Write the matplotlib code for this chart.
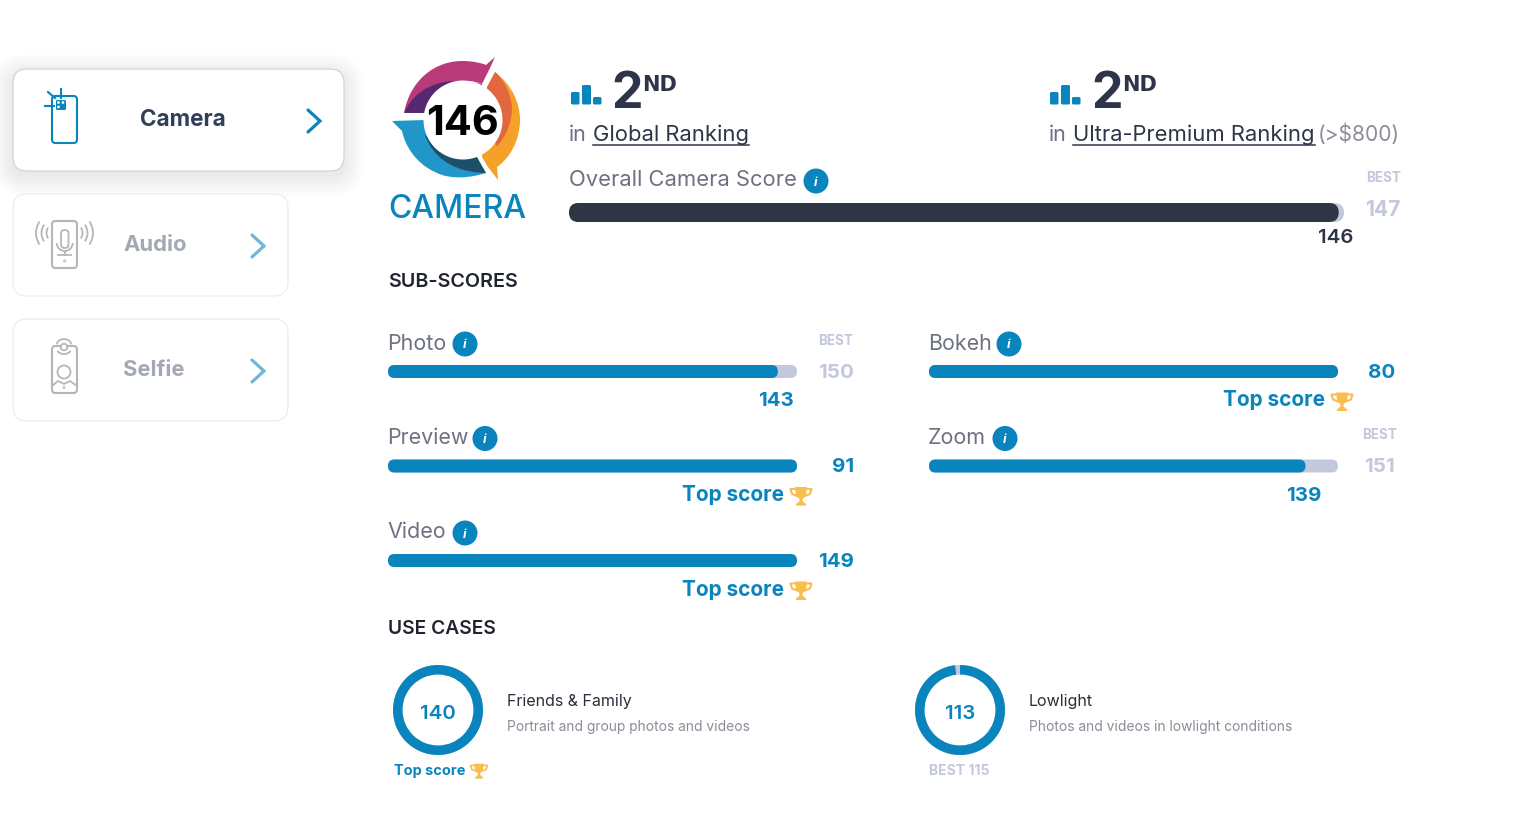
import numpy as np
import matplotlib
matplotlib.use("Agg")
import matplotlib.pyplot as plt
from matplotlib.patches import Circle, FancyBboxPatch, PathPatch, Wedge, Arc, Polygon
from matplotlib.path import Path

plt.rcParams["font.family"] = ["Inter", "DejaVu Sans"]

menu_labels = ["Camera", "Audio", "Selfie"]

overall_label = "Overall Camera Score"
overall_score = 146
overall_best = 147

rank_value = ["2", "2"]
rank_suffix = ["ND", "ND"]
rank_names = ["Global Ranking", "Ultra-Premium Ranking"]

sub_names = ["Photo", "Preview", "Video", "Bokeh", "Zoom"]
sub_scores = [143, 91, 149, 80, 139]
sub_best = [150, 91, 149, 80, 151]

case_names = ["Friends & Family", "Lowlight"]
case_desc = ["Portrait and group photos and videos", "Photos and videos in lowlight conditions"]
case_scores = [140, 113]
case_best = [140, 115]

BLUE = "#0a84bd"
DARK = "#2f3548"
GREY = "#6d7182"
PALE = "#c4c8dc"
GOLD = "#f9bd4d"
ICON = "#b4b6ba"

fig = plt.figure(figsize=(15.4, 8.18), dpi=100)
ax = fig.add_axes([0, 0, 1, 1])
ax.set_xlim(0, 1540)
ax.set_ylim(818, 0)
ax.axis("off")


def txt(x, y, s, px, color=DARK, weight="normal", ha="left", **kw):
    return ax.text(x, y, s, fontsize=px * 0.72, color=color, fontweight=weight,
                   ha=ha, va="baseline", zorder=6, **kw)


def pill(x, y, w, h, color, z=3):
    ax.add_patch(FancyBboxPatch((x, y), w, h, boxstyle=f"round,pad=0,rounding_size={h / 2}",
                                fc=color, ec="none", zorder=z))


def card(x, y, w, h, edge, shadow=False):
    if shadow:
        for grow in range(20, 0, -2):
            ax.add_patch(FancyBboxPatch((x - grow, y - grow + 5), w + 2 * grow, h + 2 * grow,
                                        boxstyle=f"round,pad=0,rounding_size={14 + grow}",
                                        fc="#60646e", ec="none", alpha=0.006, zorder=1))
    ax.add_patch(FancyBboxPatch((x, y), w, h, boxstyle="round,pad=0,rounding_size=14",
                                fc="white", ec=edge, lw=0.7, zorder=2))


def chevron(x, yc, color):
    ax.plot([x, x + 12, x], [yc - 11, yc, yc + 11], color=color, lw=2.3,
            solid_capstyle="round", solid_joinstyle="miter", zorder=5)


def badge(x, y):
    ax.add_patch(Circle((x, y), 12.5, fc=BLUE, ec="none", zorder=5))
    txt(x, y + 4.5, "i", 13, "white", "bold", "center", style="italic")


def trophy(x, y, k=1.0):
    # cup, handles and foot around centre x, y
    cup = [(-6, -9), (6, -9), (5, -1), (1.5, 3), (1.5, 5), (5, 8), (5, 9.5),
           (-5, 9.5), (-5, 8), (-1.5, 5), (-1.5, 3), (-5, -1)]
    ax.add_patch(Polygon([(x + k * a, y + k * b) for a, b in cup], fc=GOLD, ec="none", zorder=5))
    for side in (-1, 1):
        ax.plot([x + side * k * 6, x + side * k * 10.5, x + side * k * 9, x + side * k * 4],
                [y - k * 7, y - k * 7, y - k * 2, y], color=GOLD, lw=1.5 * k, zorder=5)


def shape(segments, color, z=3):
    # segments: start point, then 1 point = line, 3 points = cubic bezier
    verts, codes = [segments[0]], [Path.MOVETO]
    for seg in segments[1:]:
        if len(seg) == 1:
            verts += seg
            codes += [Path.LINETO]
        else:
            verts += seg
            codes += [Path.CURVE4] * 3
    verts.append(segments[0])
    codes.append(Path.CLOSEPOLY)
    ax.add_patch(PathPatch(Path(verts, codes), fc=color, ec="none", zorder=z))


def rank_icon(x):
    for dx, w, top in [(0, 8.5, 92), (11, 9, 85), (22, 8.5, 97)]:
        ax.add_patch(FancyBboxPatch((x + dx, top), w, 104.5 - top, boxstyle="round,pad=0,rounding_size=1.5",
                                    fc=BLUE, ec="none", zorder=4))


def phone(y0, color):
    ax.add_patch(FancyBboxPatch((52, y0), 25, 47, boxstyle="round,pad=0,rounding_size=3.5",
                                fc="none", ec=color, lw=1.5, zorder=4))


# side menu
card(13, 69, 331, 102, "#c9cbd1", shadow=True)
card(13, 194, 275, 102, "#e7e8eb")
card(13, 319, 275, 102, "#e7e8eb")
txt(140, 126, menu_labels[0], 22.5, "#2f4058", "bold")
txt(123, 251, menu_labels[1], 22, "#a3a9b3", "bold")
txt(123, 376, menu_labels[2], 22, "#a3a9b3", "bold")
chevron(308, 121, BLUE)
chevron(252, 246, "#72b5da")
chevron(252, 371, "#72b5da")

# camera icon
phone(96, BLUE)
ax.add_patch(FancyBboxPatch((56, 100), 10, 10, boxstyle="round,pad=0,rounding_size=1.5", fc=BLUE, ec="none", zorder=5))
for cx, cy in [(58.5, 102.5), (63, 102.5), (58.5, 107)]:
    ax.add_patch(Circle((cx, cy), 1.4, fc="white", ec="none", zorder=6))
ax.plot([60.5, 60.5], [89, 98], color=BLUE, lw=1.5, zorder=5)
ax.plot([45, 54], [105.7, 105.7], color=BLUE, lw=1.5, zorder=5)
ax.plot([48, 55], [92, 98], color=BLUE, lw=1.5, zorder=5)

# audio icon
phone(221, ICON)
ax.add_patch(FancyBboxPatch((61, 230), 7.5, 18, boxstyle="round,pad=0,rounding_size=3.7", fc="none", ec=ICON, lw=1.3, zorder=4))
ax.add_patch(Arc((64.7, 243), 16, 16, theta1=0, theta2=180, color=ICON, lw=1.3, zorder=4))
ax.plot([64.7, 64.7], [251, 255], color=ICON, lw=1.3, zorder=4)
ax.plot([58, 71], [255, 255], color=ICON, lw=1.3, zorder=4)
ax.add_patch(Circle((64.7, 261), 1, fc="none", ec=ICON, lw=0.7, zorder=4))
for r in [9.5, 14.5, 20]:
    ax.add_patch(Arc((56, 233), 2 * r, 2 * r, theta1=145, theta2=215, color=ICON, lw=1.3, zorder=4))
    ax.add_patch(Arc((73, 233), 2 * r, 2 * r, theta1=-35, theta2=35, color=ICON, lw=1.3, zorder=4))

# selfie icon
phone(346, ICON)
ax.add_patch(Circle((64, 347), 3.3, fc="white", ec=ICON, lw=1.3, zorder=5))
ax.add_patch(Arc((64, 347), 16, 16, theta1=200, theta2=340, color=ICON, lw=1.3, zorder=5))
ax.add_patch(Arc((64, 347), 16, 14, theta1=30, theta2=150, color=ICON, lw=1.3, zorder=5))
ax.add_patch(Circle((64, 372), 6.5, fc="none", ec=ICON, lw=1.3, zorder=5))
ax.plot([52, 58, 64, 70, 77], [386, 381, 384, 381, 386], color=ICON, lw=1.3, zorder=5)
ax.add_patch(Circle((64, 387.5), 0.9, fc="none", ec=ICON, lw=0.7, zorder=5))

# score logo
shape([(404, 113), [(410, 80), (435, 61), (462, 61)], [(472, 61), (482, 63), (486, 65)], [(495, 57)],
       [(490, 68)], [(482, 84)], [(470, 78), (430, 78), (404, 113)]], "#b83a78")
shape([(404, 113), [(414, 90), (440, 74), (482, 84)], [(470, 110)], [(432, 113)]], "#55286f")
shape([(495, 72), [(512, 85), (520, 103), (520, 120)], [(520, 140), (510, 158), (497, 167)], [(498, 180)],
       [(488, 167)], [(482, 157)], [(480, 120)]], "#f5a028")
shape([(495, 72), [(506, 82), (512, 97), (512, 110)], [(511, 125), (505, 138), (497, 146)], [(480, 120)], [(487, 87)]], "#e2673f")
shape([(392, 121), [(425, 120)], [(470, 150)], [(486, 173)], [(470, 178), (450, 180), (435, 172)],
      [(415, 163), (405, 145), (402, 131)]], "#2197c9")
shape([(425, 135), [(432, 155), (450, 172), (486, 173)], [(477, 157)], [(450, 150)]], "#1c5069")
ax.add_patch(Circle((463, 120), 39.5, fc="white", ec="none", zorder=4))
txt(462.5, 135, str(overall_score), 41.5, "black", "bold", "center")
txt(457, 218, "CAMERA", 32, BLUE, "medium", "center")

# ranking headers
for x0, x_num, v, suf in zip([571, 1050], [611, 1091], rank_value, rank_suffix):
    rank_icon(x0)
    txt(x_num, 108, v, 50, DARK, "bold")
    ax.text(x_num + 31, 91, suf, fontsize=21 * 0.72, color=DARK, fontweight="bold",
            family="DejaVu Sans", ha="left", va="baseline", zorder=6)

txt(569, 141, "in", 21.5, GREY)
txt(593, 141, rank_names[0], 22, DARK)
ax.plot([593, 749], [144.5, 144.5], color=DARK, lw=1.1, zorder=5)
txt(1049, 141, "in", 21.5, GREY)
txt(1073, 141, rank_names[1], 22, DARK)
ax.plot([1073, 1315], [144.5, 144.5], color=DARK, lw=1.1, zorder=5)
txt(1400, 141, "(>$800)", 21, "#8b8e9b", ha="right")

# overall bar
txt(569, 186, overall_label, 22, GREY)
badge(816, 181)
TRACK_W = 775
pill(569, 203, TRACK_W, 19, PALE)
pill(569, 203, TRACK_W * overall_score / overall_best, 19, "#2f3545", z=4)
txt(1401, 182, "BEST", 13.5, PALE, "bold", "right")
txt(1400, 216, str(overall_best), 21, PALE, "bold", "right")
txt(1336, 243, str(overall_score), 20.5, DARK, "semibold", "center")

txt(388, 287, "SUB-SCORES", 19.8, "#20242e", "semibold")

# sub scores
sub_x = [388, 388, 388, 929, 929]
sub_y = [371.5, 466, 560.5, 371.5, 466]
badge_x = [465, 485, 465, 1009, 1005]
SUB_W = 409
for name, score, best, x, y, bx in zip(sub_names, sub_scores, sub_best, sub_x, sub_y, badge_x):
    txt(x - 1, y - 22, name, 21.5, GREY)
    badge(bx, y - 27.5)
    pill(x, y - 6.5, SUB_W, 13, PALE)
    pill(x, y - 6.5, SUB_W * score / best, 13, BLUE, z=4)
    right = x + 465
    if score == best:
        txt(right + 1, y + 6.5, str(score), 20.5, BLUE, "bold", "right")
        txt(x + 294, y + 35, "Top score", 20.8, BLUE, "bold")
        trophy(x + 413, y + 30)
    else:
        txt(right + 1, y + 6.5, str(best), 20.5, PALE, "bold", "right")
        txt(right + (3 if x > 500 else 0), y - 26.5 if x < 500 else y - 27, "BEST", 13.5, PALE, "bold", "right")
        txt(x + SUB_W * score / best - 2, y + 35, str(score), 20.5, BLUE, "bold", "center")

txt(388, 634, "USE CASES", 19.2, "#20242e", "semibold")

# use case rings
ring_x = [438, 960]
text_x = [507, 1029]
for name, desc, score, best, cx, tx in zip(case_names, case_desc, case_scores, case_best, ring_x, text_x):
    ax.add_patch(Wedge((cx, 710), 45, 0, 360, width=9.5, fc=PALE, ec="none", zorder=3))
    ax.add_patch(Wedge((cx, 710), 45, -90, -90 + 360 * score / best, width=9.5, fc=BLUE, ec="none", zorder=4))
    txt(cx, 719, str(score), 20.5, BLUE, "semibold", "center")
    txt(tx, 706, name, 16, "#2b2f3a")
    txt(tx, 731, desc, 13.8, "#8a8d99")

txt(394, 775, "Top score", 14.5, BLUE, "bold")
trophy(479, 771, 0.8)
txt(959, 775, f"BEST {case_best[1]}", 14, PALE, "bold", "center")

fig.savefig("out.png", dpi=100, facecolor="white")
